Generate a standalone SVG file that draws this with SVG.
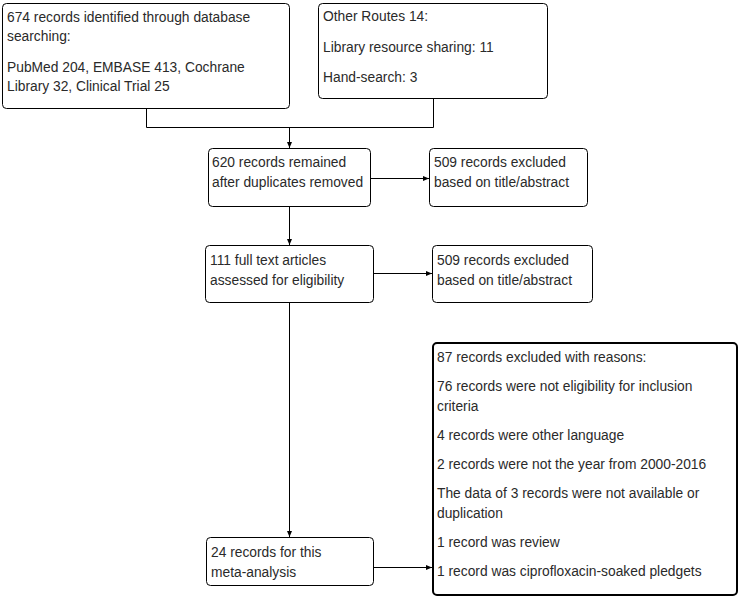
<svg xmlns="http://www.w3.org/2000/svg" width="741" height="597" viewBox="0 0 741 597">
<defs>
<style>
.box{fill:#fff;stroke:#000;stroke-width:1}
.big{fill:#fff;stroke:#000;stroke-width:2}
text{font-family:"Liberation Sans",Arial,sans-serif;font-size:13.8px;fill:#2a2a2a}
.ln{fill:none;stroke:#000;stroke-width:1}
</style>
<marker id="ah" markerWidth="6" markerHeight="6" refX="6" refY="3" orient="auto" markerUnits="userSpaceOnUse">
<path d="M0,0.5 L6,3 L0,5.5 Z" fill="#000"/>
</marker>
</defs>
<g id="connectors">
<path class="ln" d="M146.5,108 V127.5 H433.5 V98"/>
<path class="ln" d="M289.5,127.5 V148" marker-end="url(#ah)"/>
<path class="ln" d="M370,178.5 H429" marker-end="url(#ah)"/>
<path class="ln" d="M289.5,206 V245" marker-end="url(#ah)"/>
<path class="ln" d="M373,273.5 H432" marker-end="url(#ah)"/>
<path class="ln" d="M289.5,302 V537" marker-end="url(#ah)"/>
<path class="ln" d="M373,567.5 H432" marker-end="url(#ah)"/>
</g>
<g id="n1">
<rect class="box" x="2.5" y="3.5" width="287" height="105" rx="4"/>
<text x="7" y="22">674 records identified through database</text>
<text x="7" y="41">searching:</text>
<text x="7" y="72">PubMed 204, EMBASE 413, Cochrane</text>
<text x="7" y="91">Library 32, Clinical Trial 25</text>
</g>
<g id="n2">
<rect class="box" x="318.5" y="3.5" width="229" height="95" rx="4"/>
<text x="323" y="21">Other Routes 14:</text>
<text x="323" y="52">Library resource sharing: 11</text>
<text x="323" y="82">Hand-search: 3</text>
</g>
<g id="n3">
<rect class="box" x="208.5" y="148.5" width="162" height="58" rx="4"/>
<text x="212" y="167">620 records remained</text>
<text x="212" y="187">after duplicates removed</text>
</g>
<g id="n4">
<rect class="box" x="429.5" y="148.5" width="158" height="58" rx="4"/>
<text x="434" y="167">509 records excluded</text>
<text x="434" y="187">based on title/abstract</text>
</g>
<g id="n5">
<rect class="box" x="205.5" y="245.5" width="168" height="57" rx="4"/>
<text x="210" y="265">111 full text articles</text>
<text x="210" y="285">assessed for eligibility</text>
</g>
<g id="n6">
<rect class="box" x="432.5" y="245.5" width="160" height="57" rx="4"/>
<text x="437" y="265">509 records excluded</text>
<text x="437" y="285">based on title/abstract</text>
</g>
<g id="n7">
<rect class="big" x="433" y="343" width="304" height="252" rx="4"/>
<text x="437" y="362">87 records excluded with reasons:</text>
<text x="437" y="391">76 records were not eligibility for inclusion</text>
<text x="437" y="411">criteria</text>
<text x="437" y="440">4 records were other language</text>
<text x="437" y="469">2 records were not the year from 2000-2016</text>
<text x="437" y="498">The data of 3 records were not available or</text>
<text x="437" y="518">duplication</text>
<text x="437" y="547">1 record was review</text>
<text x="437" y="576">1 record was ciprofloxacin-soaked pledgets</text>
</g>
<g id="n8">
<rect class="box" x="206.5" y="537.5" width="167" height="48" rx="4"/>
<text x="211" y="557">24 records for this</text>
<text x="211" y="577">meta-analysis</text>
</g>
</svg>
